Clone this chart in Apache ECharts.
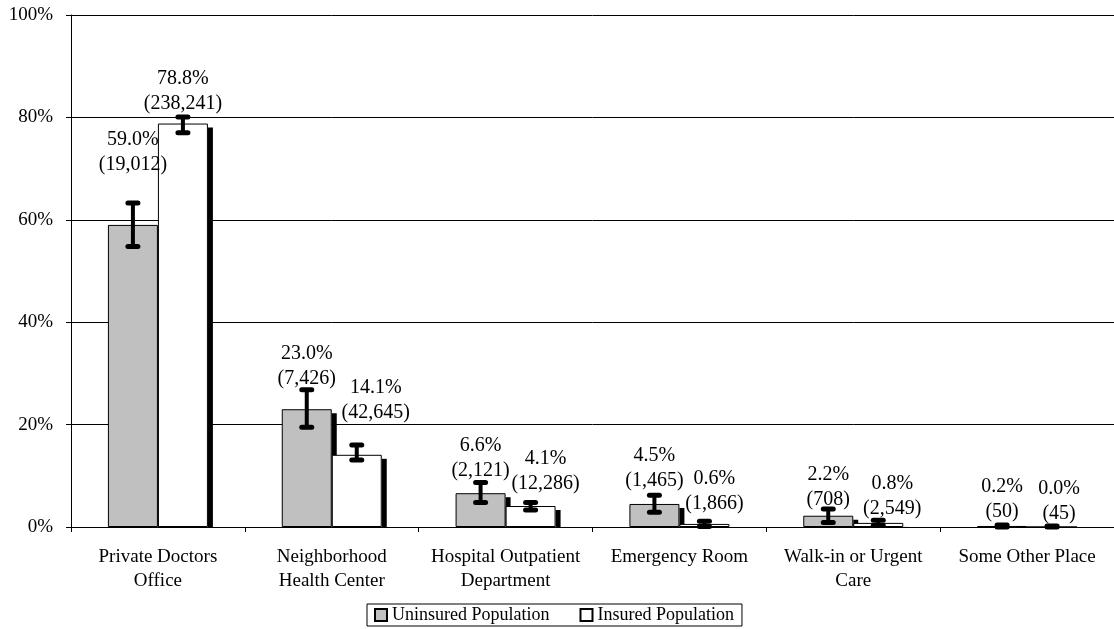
<!DOCTYPE html>
<html>
<head>
<meta charset="utf-8">
<script src="https://cdn.jsdelivr.net/npm/echarts@6/dist/echarts.min.js"></script>
<style>
  html, body { margin: 0; padding: 0; background: #fff; }
  #chart { width: 1114px; height: 629px; }
</style>
</head>
<body>
<div id="chart"></div>
<script>
var categories = ['Private Doctors\nOffice', 'Neighborhood\nHealth Center', 'Hospital Outpatient\nDepartment',
    'Emergency Room', 'Walk-in or Urgent\nCare', 'Some Other Place'];
var uninsured = [59.0, 23.0, 6.6, 4.5, 2.2, 0.2];
var insured = [78.8, 14.1, 4.1, 0.6, 0.8, 0.0];
var uninsuredCount = ['19,012', '7,426', '2,121', '1,465', '708', '50'];
var insuredCount = ['238,241', '42,645', '12,286', '1,866', '2,549', '45'];
// confidence limits [low, high]
var uninsuredErr = [[54.8, 63.3], [19.5, 26.8], [4.8, 8.7], [2.9, 6.2], [0.9, 3.5], [0.0, 0.4]];
var insuredErr = [[77.0, 80.1], [13.1, 16.0], [3.3, 4.8], [0.1, 1.1], [0.3, 1.3], [0.0, 0.2]];
var yTicks = [0, 20, 40, 60, 80, 100];

var font = '"Liberation Serif", "Times New Roman", serif';
var barW = 50;
// label nudges [dx, gap above error bar] in px
var uninsuredShift = [[0, 23], [0, -4], [0, -4], [0, -1], [0, -6], [0, -2]];
var insuredShift = [[0, -2], [19, 17], [15, 3], [10, 2], [14, -4], [7, -3]];

var my_chart = echarts.init(document.getElementById('chart'));

function shadowSeries(values, side) {
    return {
        type: 'custom', z: 1, silent: true,
        data: values.map(function (v, i) { return [i, v]; }),
        renderItem: function (params, api) {
            var top = api.coord([api.value(0), api.value(1)]);
            var base = api.coord([api.value(0), 0]);
            var x = top[0] + side * barW / 2 + barW / 2;
            var y = top[1] + 4;
            if (base[1] - y <= 0) return null;
            return {type: 'rect', shape: {x: x, y: y, width: 5, height: base[1] - y}, style: {fill: '#000'}};
        }
    };
}

function errSeries(err, side) {
    return {
        type: 'custom', z: 5, silent: true,
        data: err.map(function (e, i) { return [i, e[0], e[1]]; }),
        renderItem: function (params, api) {
            var lo = api.coord([api.value(0), api.value(1)]);
            var hi = api.coord([api.value(0), api.value(2)]);
            var x = lo[0] + side * barW / 2;
            var st = {stroke: '#000', lineWidth: 5, lineCap: 'round'};
            return {
                type: 'group', children: [
                    {type: 'line', shape: {x1: x, y1: lo[1], x2: x, y2: hi[1]}, style: {stroke: '#000', lineWidth: 4}},
                    {type: 'line', shape: {x1: x - 5, y1: lo[1], x2: x + 5, y2: lo[1]}, style: st},
                    {type: 'line', shape: {x1: x - 5, y1: hi[1], x2: x + 5, y2: hi[1]}, style: st}
                ]
            };
        }
    };
}

function labelSeries(values, counts, err, shift, side) {
    return {
        type: 'custom', z: 6, silent: true,
        data: values.map(function (v, i) { return [i, err[i][1]]; }),
        renderItem: function (params, api) {
            var i = params.dataIndex;
            var p = api.coord([api.value(0), api.value(1)]);
            return {
                type: 'text',
                style: {
                    x: p[0] + side * barW / 2 + shift[i][0],
                    y: p[1] - 3 - shift[i][1],
                    text: values[i].toFixed(1) + '%\n(' + counts[i] + ')',
                    align: 'center', verticalAlign: 'bottom',
                    font: '20px ' + font, lineHeight: 25, fill: '#000'
                }
            };
        }
    };
}

var option = {
    animation: false,
    textStyle: {fontFamily: font},
    grid: {left: 71, right: 0, top: 15, bottom: 102},
    legend: {
        data: ['Uninsured Population', 'Insured Population'],
        left: 367, top: 604,
        padding: [2, 8, 2, 7],
        borderColor: '#000', borderWidth: 1,
        itemWidth: 12, itemHeight: 12, itemGap: 30,
        icon: 'rect',
        textStyle: {fontFamily: font, fontSize: 18, color: '#000'}
    },
    xAxis: {
        type: 'category',
        data: categories,
        axisLine: {lineStyle: {color: '#000', width: 1}},
        axisTick: {show: true, length: 5, lineStyle: {color: '#000'}},
        axisLabel: {color: '#000', fontFamily: font, fontSize: 19, lineHeight: 24, margin: 18, interval: 0}
    },
    yAxis: {
        type: 'value', min: 0, max: 100, interval: 20,
        axisLine: {show: true, lineStyle: {color: '#000'}},
        axisTick: {show: true, length: 5, lineStyle: {color: '#000'}},
        axisLabel: {
            color: '#000', fontFamily: font, fontSize: 19, margin: 18,
            formatter: function (v) { return yTicks.indexOf(v) >= 0 ? v + '%' : ''; }
        },
        splitLine: {lineStyle: {color: '#000', width: 1}}
    },
    series: [
        {
            name: 'Uninsured Population', type: 'bar', data: uninsured,
            barWidth: barW, barGap: '0%', z: 2,
            itemStyle: {color: '#C0C0C0', borderColor: '#000', borderWidth: 1}
        },
        {
            name: 'Insured Population', type: 'bar', data: insured,
            barWidth: barW, barGap: '0%', z: 2,
            itemStyle: {color: '#fff', borderColor: '#000', borderWidth: 1}
        },
        shadowSeries(uninsured, -1),
        shadowSeries(insured, 1),
        errSeries(uninsuredErr, -1),
        errSeries(insuredErr, 1),
        labelSeries(uninsured, uninsuredCount, uninsuredErr, uninsuredShift, -1),
        labelSeries(insured, insuredCount, insuredErr, insuredShift, 1)
    ]
};

my_chart.setOption(option);
</script>
</body>
</html>
